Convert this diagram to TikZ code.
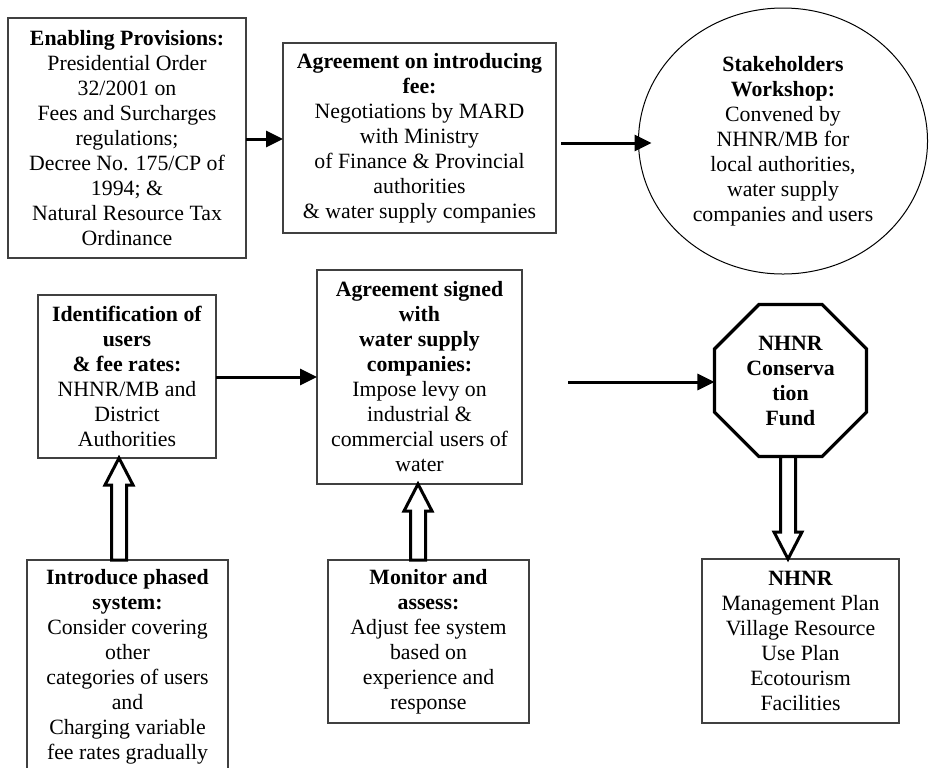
\documentclass[tikz,border=0pt]{standalone}
\usepackage{fontspec}
\setmainfont{Liberation Serif}
\usetikzlibrary{arrows.meta,shapes.geometric,calc}

% body text size used in every box
\newcommand\bodyfont{\fontsize{10.9}{12.5}\selectfont}

% hollow block arrow: #1 = foot of the shaft, #2 = tip, #3 = signed head length
\newcommand\hollowarrow[3]{%
  \draw[hollow] let \p1=(#1), \p2=(#2) in
    ({\x1-3.75pt},\y1) -- ({\x1-3.75pt},{\y2-(#3)}) -- ({\x1-7pt},{\y2-(#3)}) -- (\x1,\y2)
    -- ({\x1+7pt},{\y2-(#3)}) -- ({\x1+3.75pt},{\y2-(#3)}) -- ({\x1+3.75pt},\y1) -- cycle;}

\tikzset{
  box/.style={draw=black!75, line width=0.6pt, inner sep=0pt, outer sep=0pt,
              align=center, font=\bodyfont, fill=white},
  ovalbox/.style={box, ellipse, draw=black, line width=0.5pt},
  octbox/.style={box, regular polygon, regular polygon sides=8, draw=black,
                 line width=1.6pt, line join=miter},
  conn/.style={line width=1.5pt, -{Triangle[length=8.5pt,width=8pt]}},
  hollow/.style={draw=black, line width=1.5pt, fill=white, line join=miter},
}

\begin{document}
\begin{tikzpicture}[x=0.5pt,y=-0.5pt]
  \useasboundingbox[fill=white] (0,0) rectangle (929,767);

  % first row
  \node[box, minimum width=119pt, minimum height=120pt] (enab) at (127,138)
    {\textbf{Enabling Provisions:}\\Presidential Order\\32/2001 on\\Fees and Surcharges\\regulations;\\Decree No. 175/CP of\\1994; \&\\Natural Resource Tax\\Ordinance};
  \node[box, minimum width=136.5pt, minimum height=95pt] (agree) at (419.5,138)
    {\textbf{Agreement on introducing}\\\textbf{fee:}\\Negotiations by MARD\\with Ministry\\of Finance \& Provincial\\authorities\\\& water supply companies};
  \node[ovalbox, minimum width=144.5pt, minimum height=133pt] (ell) at (783,141)
    {\textbf{Stakeholders}\\\textbf{Workshop:}\\Convened by\\NHNR/MB for\\local authorities,\\water supply\\companies and users};

  % second row
  \node[box, minimum width=89pt, minimum height=81.5pt] (ident) at (127,376.5)
    {\textbf{Identification of}\\\textbf{users}\\\textbf{\& fee rates:}\\NHNR/MB and\\District\\Authorities};
  \node[box, minimum width=102.5pt, minimum height=107pt] (sign) at (419.5,377)
    {\textbf{Agreement signed}\\\textbf{with}\\\textbf{water supply}\\\textbf{companies:}\\Impose levy on\\industrial \&\\commercial users of\\water};
  \node[octbox, minimum size=82.3pt] (oct) at (790.5,380.5)
    {\textbf{NHNR}\\\textbf{Conserva}\\\textbf{tion}\\\textbf{Fund}};

  % third row
  \node[box, minimum width=100.5pt, minimum height=106.5pt] (intro) at (127.5,666.5)
    {\textbf{Introduce phased}\\\textbf{system:}\\Consider covering\\other\\categories of users\\and\\Charging variable\\fee rates gradually};
  \node[box, minimum width=100.5pt, minimum height=81.5pt] (monitor) at (428.5,641.5)
    {\textbf{Monitor and}\\\textbf{assess:}\\Adjust fee system\\based on\\experience and\\response};
  \node[box, minimum width=98.5pt, minimum height=82pt] (nhnr) at (800.5,641)
    {\textbf{NHNR}\\Management Plan\\Village Resource\\Use Plan\\Ecotourism\\Facilities};

  % solid arrows
  \draw[conn] (enab.east |- 0,139) -- (agree.west |- 0,139);
  \coordinate (a2s) at (561,143);
  \draw[conn, shorten >=-6.5pt] (a2s) -- (a2s -| ell.west);
  \draw[conn] (ident.east |- 0,377) -- (sign.west |- 0,377);
  \coordinate (a4s) at (568,382);
  \draw[conn] (a4s) -- (a4s -| oct.west);

  % hollow block arrows
  \coordinate (h1t) at ($(ident.south)+(-8,0)$);
  \coordinate (h1s) at (h1t |- intro.north);
  \hollowarrow{h1s}{h1t}{13.5pt}
  \coordinate (h2t) at ($(sign.south)+(-1.5,0)$);
  \coordinate (h2s) at (h2t |- monitor.north);
  \hollowarrow{h2s}{h2t}{13.5pt}
  \coordinate (h3s) at ($(oct.south)+(-2.5,0)$);
  \coordinate (h3t) at (h3s |- nhnr.north);
  \hollowarrow{h3s}{h3t}{-13.5pt}
\end{tikzpicture}
\end{document}
